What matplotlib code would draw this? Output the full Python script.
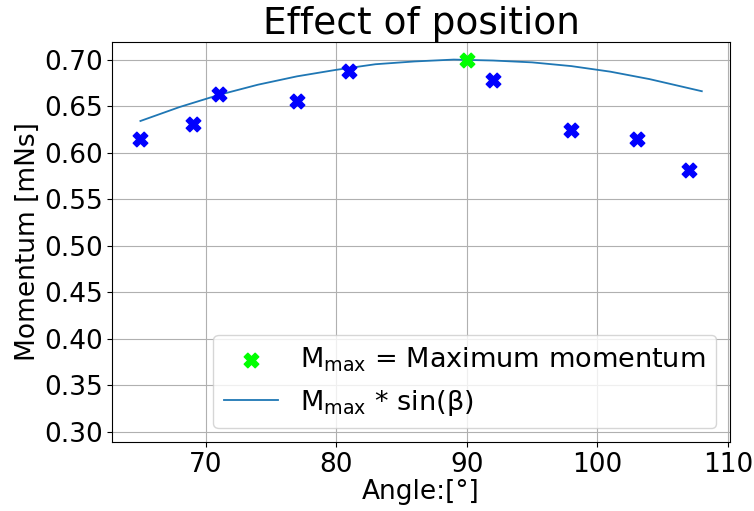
import matplotlib
matplotlib.use("Agg")
import matplotlib.pyplot as plt

# measured points
angles = [65, 69, 71, 77, 81, 92, 98, 103, 107]
momentum = [0.615, 0.631, 0.663, 0.655, 0.688, 0.678, 0.624, 0.615, 0.581]

# maximum
angle_max = [90]
momentum_max = [0.700]

# curve M_max * sin(beta)
curve_angles = [65, 68, 71, 74, 77, 80, 83, 86, 89, 92, 95, 98, 101, 104, 108]
curve_values = [0.634, 0.649, 0.662, 0.673, 0.682, 0.689, 0.695, 0.698, 0.700,
                0.699, 0.697, 0.693, 0.687, 0.679, 0.666]

fig = plt.figure(figsize=(7.54, 5.11), dpi=100)
ax = fig.add_axes([0.149, 0.135, 0.819, 0.783])

ax.scatter(angles, momentum, marker='X', s=110, color='blue', zorder=3)
sc = ax.scatter(angle_max, momentum_max, marker='X', s=110, color='lime', zorder=4,
                label=r'M$_{\mathregular{max}}$ = Maximum momentum')
ln, = ax.plot(curve_angles, curve_values, color='C0', lw=1.3,
              label=r'M$_{\mathregular{max}}$ * sin(β)')

ax.set_ylim(0.289, 0.719)
ax.set_yticks([0.30, 0.35, 0.40, 0.45, 0.50, 0.55, 0.60, 0.65, 0.70])
ax.set_xticks([70, 80, 90, 100, 110])
ax.grid(True)
ax.tick_params(labelsize=19)

ax.set_title('Effect of position', fontsize=27)
ax.set_xlabel('Angle:[°]', fontsize=19, labelpad=1)
ax.set_ylabel('Momentum [mNs]', fontsize=19, labelpad=2)

ax.legend(handles=[sc, ln], loc='lower right', fontsize=19.5)

fig.savefig('out.png', dpi=100)
